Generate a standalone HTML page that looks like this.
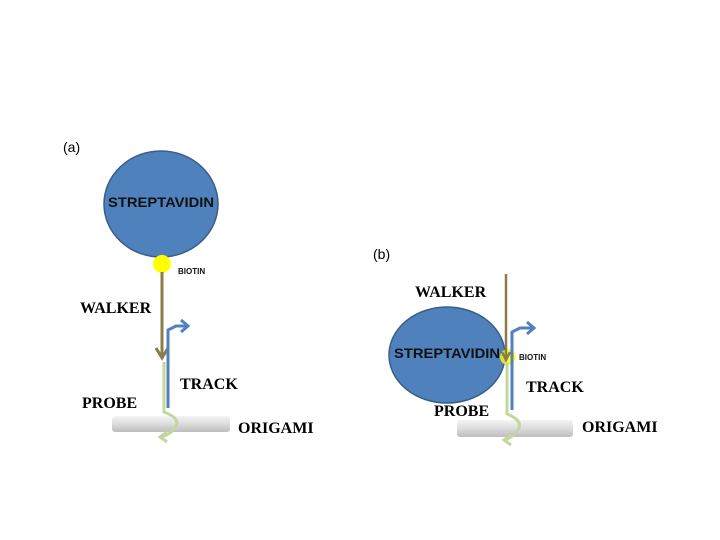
<!DOCTYPE html>
<html><head><meta charset="utf-8"><style>
body{margin:0;background:#fff;}
svg{display:block}
.s{font-family:"Liberation Serif",serif;font-weight:bold;font-size:16px;fill:#000}
.c{font-family:"Liberation Sans",sans-serif;font-weight:bold;fill:#111}
</style></head><body>
<svg width="720" height="540" viewBox="0 0 720 540" xmlns="http://www.w3.org/2000/svg">
<defs>
<linearGradient id="g" x1="0" y1="0" x2="0" y2="1">
<stop offset="0" stop-color="#f4f4f4"/><stop offset="0.5" stop-color="#dcdcdc"/><stop offset="1" stop-color="#bdbdbd"/>
</linearGradient>
</defs>
<text x="63" y="152" font-family="Liberation Sans,sans-serif" font-size="14">(a)</text>
<text x="373" y="259" font-family="Liberation Sans,sans-serif" font-size="14">(b)</text>

<!-- panel a -->
<ellipse cx="161" cy="204" rx="57" ry="53" fill="#4f81bd" stroke="#385d8a" stroke-width="1.5"/>
<text x="108" y="207" class="c" font-size="14" textLength="106" lengthAdjust="spacingAndGlyphs">STREPTAVIDIN</text>
<circle cx="162" cy="264" r="9" fill="#ffff00"/>
<text x="178" y="274" class="c" font-size="8">BIOTIN</text>
<rect x="112" y="416" width="118" height="16" rx="3" fill="url(#g)"/>
<path d="M162 272 V356" stroke="#8b7d4a" stroke-width="3" fill="none"/>
<path d="M156 348 L162 358 L168 348" stroke="#8b7d4a" stroke-width="3" fill="none"/>
<path d="M168 408 V330 L176 326 H187" stroke="#4f81bd" stroke-width="3" fill="none"/>
<path d="M181 320 L188 326 L181 332" stroke="#4f81bd" stroke-width="3" fill="none"/>
<path d="M164 362 V412 Q180 418 176 426 Q172 434 161 437" stroke="#c3d69b" stroke-width="3" fill="none"/>
<path d="M167 432 L160 437 L167 442" stroke="#c3d69b" stroke-width="3" fill="none"/>
<text x="80" y="313" class="s">WALKER</text>
<text x="180" y="389" class="s">TRACK</text>
<text x="82" y="408" class="s">PROBE</text>
<text x="238" y="433" class="s">ORIGAMI</text>

<!-- panel b -->
<ellipse cx="447" cy="355" rx="58" ry="48" fill="#4f81bd" stroke="#385d8a" stroke-width="1.5"/>
<text x="394" y="358" class="c" font-size="14" textLength="106" lengthAdjust="spacingAndGlyphs">STREPTAVIDIN</text>
<circle cx="508" cy="357" r="8" fill="#ffff00" opacity="0.8"/>
<text x="519" y="360" class="c" font-size="8">BIOTIN</text>
<rect x="457" y="420" width="116" height="17" rx="3" fill="url(#g)"/>
<path d="M506 274 V358" stroke="#8b7d4a" stroke-width="2.5" fill="none"/>
<path d="M502 352 L506 360 L510 352" stroke="#8b7d4a" stroke-width="2.5" fill="none"/>
<path d="M512 410 V332 L520 328 H533" stroke="#4f81bd" stroke-width="3" fill="none"/>
<path d="M527 322 L534 328 L527 334" stroke="#4f81bd" stroke-width="3" fill="none"/>
<path d="M507 362 V414 Q522 420 519 428 Q515 436 505 440" stroke="#c3d69b" stroke-width="3" fill="none"/>
<path d="M511 435 L504 440 L511 445" stroke="#c3d69b" stroke-width="3" fill="none"/>
<text x="415" y="297" class="s">WALKER</text>
<text x="526" y="392" class="s">TRACK</text>
<text x="434" y="416" class="s">PROBE</text>
<text x="582" y="432" class="s">ORIGAMI</text>
</svg>
</body></html>
